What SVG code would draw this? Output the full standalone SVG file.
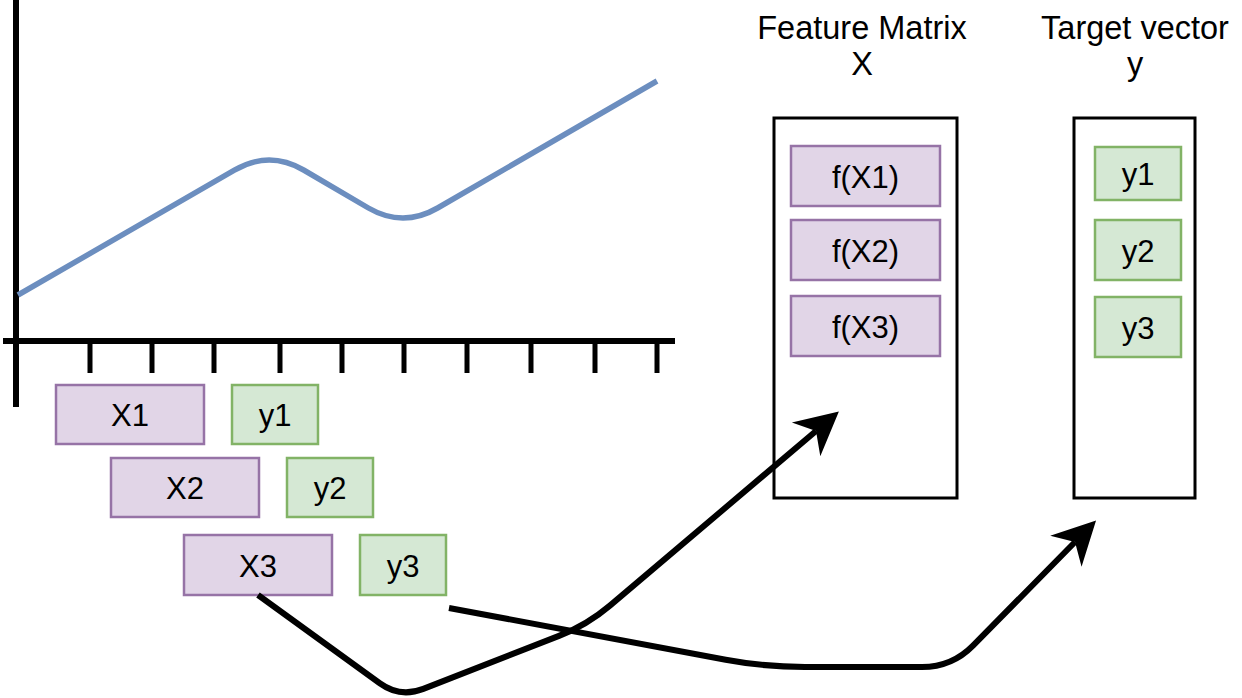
<svg xmlns="http://www.w3.org/2000/svg" width="1242" height="698" viewBox="0 0 1242 698">
  <style>
    text { font-family: "Liberation Sans", Arial, Helvetica, sans-serif; fill: #000; text-anchor: middle; }
    .lbl { font-size: 31px; }
    .ttl { font-size: 32.5px; }
    .px { fill: #e1d5e7; stroke: #9673a6; stroke-width: 2.5; }
    .py { fill: #d5e8d4; stroke: #82b366; stroke-width: 2.5; }
    .cont { fill: #ffffff; stroke: #000000; stroke-width: 3; }
    .axis { stroke: #000; stroke-width: 6; fill: none; }
    .tick { stroke: #000; stroke-width: 5; fill: none; }
    .conn { stroke: #000; stroke-width: 6; fill: none; }
  </style>
  <defs>
    <marker id="arrow" markerUnits="userSpaceOnUse" markerWidth="50" markerHeight="50" refX="13" refY="22" orient="auto" overflow="visible">
      <path d="M0,0 L43,22 L0,44 L13,22 Z" fill="#000"/>
    </marker>
  </defs>
  <rect width="1242" height="698" fill="#ffffff"/>

  <g id="chart">
    <path class="axis" d="M16,0 V407"/>
    <path class="axis" d="M3,341 H675"/>
    <g class="tick-marks">
      <path class="tick" d="M90,341 V373 M152,341 V373 M214,341 V373 M280,341 V373 M342,341 V373 M404,341 V373 M467,341 V373 M531,341 V373 M595,341 V373 M657,341 V373"/>
    </g>
    <path d="M18,295 L234.4,170.2 Q269,150 303.6,170 L368.4,208 Q403,228 437.6,208 L657,81" fill="none" stroke="#6c8ebf" stroke-width="5.5"/>
  </g>

  <g id="node-X1"><rect class="px" x="56" y="385" width="148" height="59"/><text class="lbl" x="130" y="425.5">X1</text></g>
  <g id="node-y1"><rect class="py" x="232" y="385" width="86" height="59"/><text class="lbl" x="275" y="425.5">y1</text></g>
  <g id="node-X2"><rect class="px" x="111" y="458" width="148" height="59"/><text class="lbl" x="185" y="498.5">X2</text></g>
  <g id="node-y2"><rect class="py" x="287" y="458" width="86" height="59"/><text class="lbl" x="330" y="498.5">y2</text></g>
  <g id="node-X3"><rect class="px" x="184" y="535" width="148" height="60"/><text class="lbl" x="258" y="576.5">X3</text></g>
  <g id="node-y3"><rect class="py" x="360" y="535" width="86" height="60"/><text class="lbl" x="403" y="576.5">y3</text></g>

  <g id="node-feature-matrix">
    <text class="ttl" x="862" y="39">Feature Matrix</text>
    <text class="ttl" x="862" y="75">X</text>
    <rect class="cont" x="774" y="118" width="183" height="380"/>
  </g>
  <g id="node-fX1"><rect class="px" x="791" y="146" width="149" height="60"/><text class="lbl" x="865.5" y="187.5">f(X1)</text></g>
  <g id="node-fX2"><rect class="px" x="791" y="220" width="149" height="60"/><text class="lbl" x="865.5" y="261.5">f(X2)</text></g>
  <g id="node-fX3"><rect class="px" x="791" y="296" width="149" height="60"/><text class="lbl" x="865.5" y="337.5">f(X3)</text></g>

  <g id="node-target-vector">
    <text class="ttl" x="1135" y="39">Target vector</text>
    <text class="ttl" x="1135" y="75">y</text>
    <rect class="cont" x="1074" y="118" width="121" height="380"/>
  </g>
  <g id="node-ty1"><rect class="py" x="1095" y="147" width="86" height="53"/><text class="lbl" x="1138" y="184.5">y1</text></g>
  <g id="node-ty2"><rect class="py" x="1095" y="220" width="86" height="60"/><text class="lbl" x="1138" y="261.5">y2</text></g>
  <g id="node-ty3"><rect class="py" x="1095" y="297" width="86" height="60"/><text class="lbl" x="1138" y="338.5">y3</text></g>

  <g id="connectors">
    <path class="conn" marker-end="url(#arrow)" d="M258,595 L379.8,683.3 Q400,698 423.3,688.9 L559,635.9 Q587,625 609.9,605.6 L816,431"/>
    <path class="conn" marker-end="url(#arrow)" d="M449,608 L725.7,659.7 Q765,667 805,667 L922,667 Q952,667 973,645.6 L1075,542"/>
  </g>
</svg>
